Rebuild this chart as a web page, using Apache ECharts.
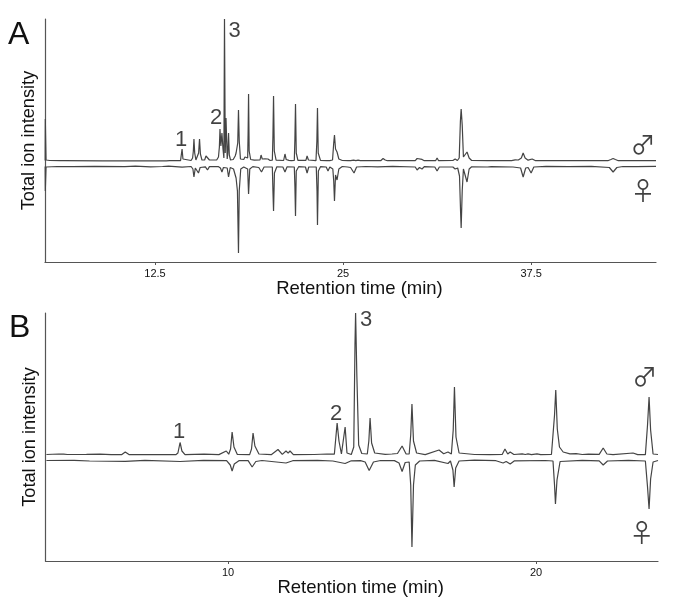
<!DOCTYPE html>
<html><head><meta charset="utf-8">
<style>html,body{margin:0;padding:0;background:#fff}#c{width:685px;height:605px}</style>
<script src="https://cdn.jsdelivr.net/npm/echarts@6/dist/echarts.min.js"></script>
</head><body><div id="c"></div>
<script>
const ticksA = [12.5, 25, 37.5];
const ticksB = [10, 20];
const maleA = [[5.2,0.5],[5.21,42],[5.26,1],[5.5,0.5],[6.2,0.3],[6.32,1.2],[6.45,0.3],[9.0,0.2],[9.11,0.8],[9.2,0.2],[10.9,0.2],[10.97,1],[11.05,0.2],[11.85,0.2],[11.9,0.8],[12.0,0.2],[12.25,0.2],[12.3,0.8],[12.4,0.2],[13.25,0.2],[13.36,2.2],[13.48,0.3],[14.2,0.3],[14.24,2],[14.3,12],[14.36,2],[14.42,0.3],[14.9,0.5],[15.0,3],[15.05,10],[15.09,22],[15.14,8],[15.22,1],[15.34,1],[15.4,8],[15.46,22],[15.52,7],[15.62,1],[15.8,1],[15.89,5],[15.95,3],[16.02,5],[16.12,1],[16.6,1],[16.72,4],[16.78,14],[16.82,32],[16.88,15],[16.95,28],[17.02,12],[17.08,3],[17.12,142],[17.17,8],[17.22,43],[17.3,2],[17.34,8],[17.39,28],[17.44,6],[17.52,1],[17.7,1.5],[17.83,5],[17.89,8],[17.96,6],[18.0,18],[18.05,51],[18.1,20],[18.18,2],[18.4,1.5],[18.48,4],[18.56,2],[18.66,3],[18.69,28],[18.72,67],[18.76,10],[18.86,1.5],[19.1,0.8],[19.48,1],[19.55,6],[19.63,2],[19.81,2.2],[19.9,1],[20.01,2],[20.15,0.5],[20.3,0.8],[20.34,25],[20.38,65],[20.43,10],[20.55,0.8],[21.05,0.5],[21.14,7],[21.22,1.5],[21.4,0.6],[21.48,1.2],[21.56,0.4],[21.76,0.5],[21.8,22],[21.84,57],[21.89,8],[22.0,0.6],[22.53,0.6],[22.61,5],[22.7,1],[23.2,0.4],[23.26,20],[23.3,53],[23.35,8],[23.5,0.6],[23.9,0.4],[24.0,2],[24.12,0.4],[24.3,1],[24.38,18],[24.43,26],[24.5,12],[24.6,9],[24.72,2],[24.95,0.5],[25.33,0.4],[25.4,1.3],[25.5,0.3],[25.7,0.9],[25.85,0.4],[26.0,0.8],[26.15,0.3],[27.5,0.3],[27.66,2.5],[27.8,1],[27.95,0.3],[29.8,0.4],[29.92,2.5],[30.05,0.6],[30.25,1.6],[30.4,0.3],[31.15,0.3],[31.25,3],[31.35,0.3],[32.3,0.5],[32.45,2],[32.6,0.5],[32.72,3],[32.8,40],[32.85,52],[32.92,36],[33.0,4],[33.1,3],[33.24,9],[33.38,3],[33.55,0.5],[34.6,0.3],[34.71,1.2],[34.85,0.3],[36.2,0.4],[36.44,1.2],[36.65,1],[36.85,3],[36.97,8],[37.1,3],[37.3,0.8],[37.57,2],[37.8,0.3],[42.6,0.3],[42.8,1.5],[42.95,2.5],[43.1,1.5],[43.3,0.3],[45.8,0.3]];
const femaleA = [[5.2,-5.5],[5.21,-30],[5.26,-6],[6.0,-5.5],[7.0,-5.6],[8.5,-5.3],[10.5,-5.7],[11.2,-5.2],[12.2,-5.8],[13.0,-5.5],[13.4,-5.2],[14.3,-6.2],[14.9,-5.5],[15.02,-8],[15.09,-16],[15.18,-7],[15.3,-7],[15.39,-12],[15.5,-6.5],[15.85,-5.8],[15.99,-9],[16.12,-5.6],[16.7,-5.5],[16.85,-7],[16.95,-11],[17.05,-6.5],[17.3,-7],[17.39,-16],[17.5,-6.5],[17.72,-8],[17.89,-17],[17.98,-30],[18.05,-92],[18.1,-30],[18.2,-8],[18.4,-6],[18.66,-8],[18.72,-33],[18.8,-8],[19.0,-5.6],[19.4,-6.5],[19.58,-11],[19.75,-6],[20.3,-6],[20.34,-30],[20.38,-50],[20.44,-12],[20.6,-5.8],[21.0,-6],[21.14,-11],[21.28,-5.8],[21.76,-6],[21.8,-25],[21.84,-55],[21.89,-10],[22.05,-5.7],[22.5,-6],[22.61,-12],[22.72,-6],[23.22,-6],[23.27,-30],[23.3,-64],[23.36,-10],[23.5,-5.7],[23.88,-6],[24.0,-10],[24.12,-6],[24.32,-8],[24.38,-20],[24.43,-40],[24.5,-14],[24.6,-19],[24.72,-8],[24.95,-5.5],[25.3,-6],[25.5,-6.5],[25.73,-12],[25.9,-6],[26.5,-5.5],[27.3,-5.8],[28.3,-5.3],[29.8,-6],[29.92,-9],[30.08,-6.5],[30.25,-8],[30.4,-5.6],[31.1,-6],[31.25,-10],[31.4,-6],[32.3,-6],[32.45,-8],[32.62,-7],[32.74,-15],[32.81,-50],[32.85,-67],[32.92,-30],[33.0,-8],[33.1,-8],[33.24,-21],[33.38,-8],[33.55,-5.8],[34.6,-6],[34.71,-7],[34.85,-5.6],[36.3,-6],[36.8,-7],[36.97,-16],[37.14,-7],[37.3,-6.5],[37.5,-12],[37.68,-6],[38.5,-5.3],[40.0,-5.6],[41.5,-5.3],[42.7,-6.5],[42.95,-11],[43.2,-6.5],[43.6,-5.5],[44.5,-5.7],[45.8,-5.3]];
const maleB = [[4.1,0.5],[4.5,1],[4.66,0.8],[4.71,1.6],[4.78,0.5],[5.4,0.7],[5.84,0.9],[6.2,0.3],[6.55,0.4],[6.66,3],[6.78,0.4],[7.6,0.4],[8.3,0.3],[8.37,2],[8.44,12.5],[8.5,4],[8.6,0.3],[9.22,0.8],[9.7,0.4],[9.94,4],[10.02,0.8],[10.08,6],[10.13,23],[10.19,8],[10.3,0.5],[10.7,0.4],[10.76,6],[10.81,22],[10.87,9],[11.0,1],[11.4,0.3],[11.62,5.5],[11.76,0.6],[11.88,4],[11.95,1.8],[12.01,4],[12.12,0.4],[12.8,0.5],[13.21,1],[13.45,0.8],[13.5,18],[13.54,32],[13.6,14],[13.68,1],[13.74,1],[13.8,28],[13.86,2],[14.0,0.5],[14.08,8],[14.12,110],[14.14,142],[14.18,80],[14.24,10],[14.34,1.5],[14.52,1],[14.57,14],[14.61,37],[14.66,12],[14.76,2],[15.1,0.6],[15.32,1],[15.5,1.5],[15.65,9],[15.78,1],[15.88,1],[15.93,20],[15.97,51],[16.02,14],[16.12,2],[16.4,0.4],[16.85,5],[17.0,1.2],[17.14,3],[17.25,1],[17.31,25],[17.35,68],[17.4,18],[17.5,2],[18.0,0.5],[18.5,0.4],[18.9,0.6],[18.99,6],[19.08,1],[19.16,3],[19.28,0.5],[19.55,1.2],[19.65,0.5],[19.74,1.1],[19.85,0.4],[20.03,1.2],[20.15,0.3],[20.5,0.5],[20.6,40],[20.64,65],[20.69,26],[20.76,8],[20.88,3],[21.1,1.2],[21.3,1.3],[21.5,0.5],[21.7,0.9],[22.05,0.6],[22.18,7],[22.3,1],[22.5,0.4],[23.15,2],[23.3,0.4],[23.55,0.4],[23.62,30],[23.67,58],[23.72,25],[23.8,1],[23.96,0.5]];
const femaleB = [[4.1,-5.5],[5.0,-5.3],[5.5,-6],[6.66,-6.3],[7.3,-5.3],[8.44,-6.5],[9.2,-5.4],[9.95,-5.6],[10.07,-10],[10.13,-16],[10.2,-9],[10.35,-5.7],[10.65,-5.6],[10.78,-12],[10.9,-6.5],[11.1,-5.5],[11.88,-8],[12.1,-5.7],[12.9,-5.3],[13.4,-6],[13.8,-8.5],[14.0,-5.8],[14.3,-5.6],[14.45,-7],[14.58,-15.5],[14.72,-7],[14.95,-5.5],[15.4,-5.6],[15.55,-8],[15.65,-16.5],[15.75,-7.5],[15.88,-7],[15.93,-30],[15.97,-92],[16.02,-30],[16.08,-10],[16.22,-6],[16.7,-5.4],[17.14,-8.5],[17.22,-6],[17.3,-15],[17.34,-32],[17.39,-13],[17.5,-6],[18.0,-5.2],[18.7,-5.7],[18.93,-8],[19.03,-6.5],[19.16,-9],[19.3,-5.8],[20.3,-5.5],[20.55,-6],[20.6,-30],[20.63,-49],[20.68,-25],[20.78,-6.5],[21.5,-5.4],[22.05,-5.8],[22.18,-10],[22.32,-6],[23.0,-5.4],[23.55,-6],[23.62,-32],[23.67,-54],[23.72,-24],[23.8,-7],[23.96,-5.5]];
const labelsA = [[14.24,21,'1'],[16.56,43,'2'],[17.8,130,'3']];
const labelsB = [[8.41,23,'1'],[13.51,41,'2'],[14.48,135,'3']];
const sexA = [[44.93,17,'♂'],[44.93,-29,'♀']];
const sexB = [[23.53,79,'♂'],[23.43,-77,'♀']];

const ink = '#444';
const textInk = '#111';
function xAxis(i, min, max, ticks, gap) {
  return {type:'value', gridIndex:i, min, max, splitLine:{show:false},
    axisLine:{onZero:false,lineStyle:{color:'#555',width:1.2}},
    axisTick:{length:3,lineStyle:{color:'#555'},customValues:ticks},
    axisLabel:{fontFamily:'Liberation Sans',fontSize:11,color:textInk,margin:6,customValues:ticks},
    name:'Retention time (min)', nameLocation:'middle', nameGap:gap,
    nameTextStyle:{fontFamily:'Liberation Sans',fontSize:18.5,color:textInk,padding:[0,0,0,18]}};
}
function yAxis(i, min, max) {
  return {type:'value', gridIndex:i, min, max, splitLine:{show:false},
    axisTick:{show:false}, axisLabel:{show:false},
    axisLine:{show:true,onZero:false,lineStyle:{color:'#555',width:1.2}},
    name:'Total ion intensity', nameLocation:'middle', nameGap:7,
    nameTextStyle:{fontFamily:'Liberation Sans',fontSize:18.2,color:textInk}};
}
function trace(i, data) {
  return {type:'line', xAxisIndex:i, yAxisIndex:i, data, showSymbol:false, silent:true,
    lineStyle:{color:ink,width:1.2}, clip:false, animation:false};
}
function notes(i, data, font, size) {
  return {type:'scatter', xAxisIndex:i, yAxisIndex:i, data, symbolSize:0, silent:true, animation:false,
    label:{show:true,position:'inside',formatter:p=>p.value[2],fontFamily:font,fontSize:size,color:textInk}};
}
const chart = echarts.init(document.getElementById('c'), null, {renderer:'canvas'});
chart.setOption({
  animation:false,
  backgroundColor:'#fff',
  grid:[{left:45,right:29,top:19,height:243},{left:45.5,right:27,top:313,height:248}],
  xAxis:[xAxis(0,5.19,45.8,ticksA,16),xAxis(1,4.07,23.96,ticksB,15)],
  yAxis:[yAxis(0,-101,142),yAxis(1,-106,142)],
  series:[trace(0,maleA),trace(0,femaleA),trace(1,maleB),trace(1,femaleB),
    notes(0,labelsA,'Liberation Sans',22),notes(1,labelsB,'Liberation Sans',22),
    notes(0,sexA,'Noto Sans CJK SC',25),notes(1,sexB,'Noto Sans CJK SC',25)],
  graphic:[
    {type:'text',left:8,top:19,style:{text:'A',font:'32px "Liberation Sans"',fill:'#111'}},
    {type:'text',left:9,top:312,style:{text:'B',font:'32px "Liberation Sans"',fill:'#111'}}
  ]
});
</script></body></html>
